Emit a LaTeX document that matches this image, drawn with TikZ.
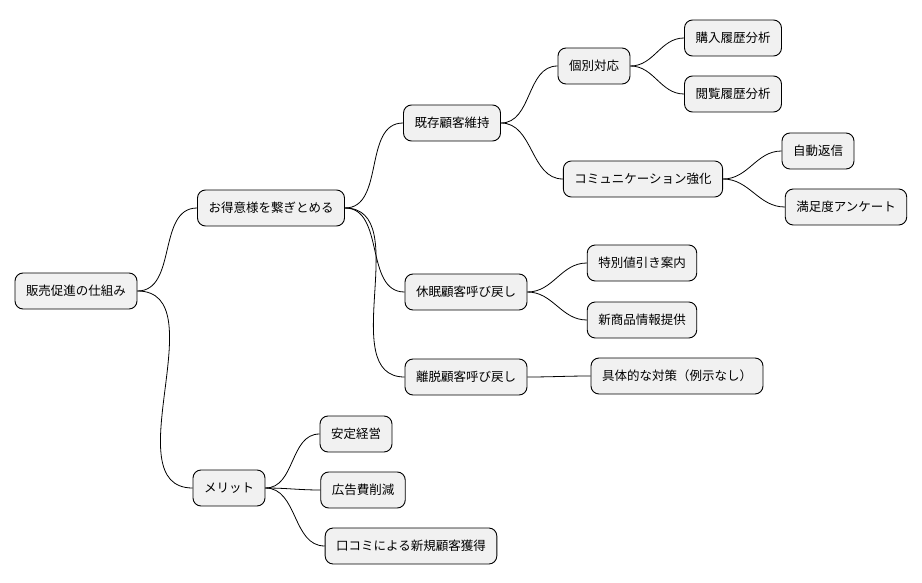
\documentclass[tikz,border=0pt]{standalone}
\usepackage{fontspec}
\setmainfont{Noto Sans CJK JP}
\usetikzlibrary{positioning}
\definecolor{boxfill}{HTML}{F1F1F1}
\tikzset{
    topic/.style={draw, fill=boxfill, rounded corners=8pt, line width=0.9pt,
        minimum height=36pt, inner xsep=11pt, font=\fontsize{12.5}{14}\selectfont},
    branch/.style={line width=0.8pt, out=0, in=180}
}
\begin{document}
\begin{tikzpicture}[x=1pt, y=-1pt]
    \useasboundingbox (0,0) rectangle (922,583);
    % root and first level
    \node[topic] (root) at (76,291) {販売促進の仕組み};
    \node[topic] (keep) at (271,208) {お得意様を繋ぎとめる};
    \node[topic] (merit) at (229,488) {メリット};
    % second level
    \node[topic] (exist) at (452,123) {既存顧客維持};
    \node[topic] (sleep) at (466,292) {休眠顧客呼び戻し};
    \node[topic] (leave) at (466,377) {離脱顧客呼び戻し};
    \node[topic] (stable) at (356,434) {安定経営};
    \node[topic] (adcut) at (363,490) {広告費削減};
    \node[topic] (word) at (411,546) {口コミによる新規顧客獲得};
    % third level
    \node[topic] (indiv) at (594,66) {個別対応};
    \node[topic] (comm) at (643,179) {コミュニケーション強化};
    \node[topic] (disc) at (642,263) {特別値引き案内};
    \node[topic] (newp) at (642,320) {新商品情報提供};
    \node[topic] (plan) at (677,376) {具体的な対策（例示なし）};
    % fourth level
    \node[topic] (buy) at (733,38) {購入履歴分析};
    \node[topic] (view) at (733,94) {閲覧履歴分析};
    \node[topic] (auto) at (818,151) {自動返信};
    \node[topic] (survey) at (846,207) {満足度アンケート};

    % connectors
    \foreach \p/\c in {root/keep, root/merit, keep/exist, keep/sleep, keep/leave,
        merit/stable, merit/adcut, merit/word, exist/indiv, exist/comm,
        sleep/disc, sleep/newp, leave/plan, indiv/buy, indiv/view,
        comm/auto, comm/survey}
        \draw[branch] (\p.east) to (\c.west);
\end{tikzpicture}
\end{document}
